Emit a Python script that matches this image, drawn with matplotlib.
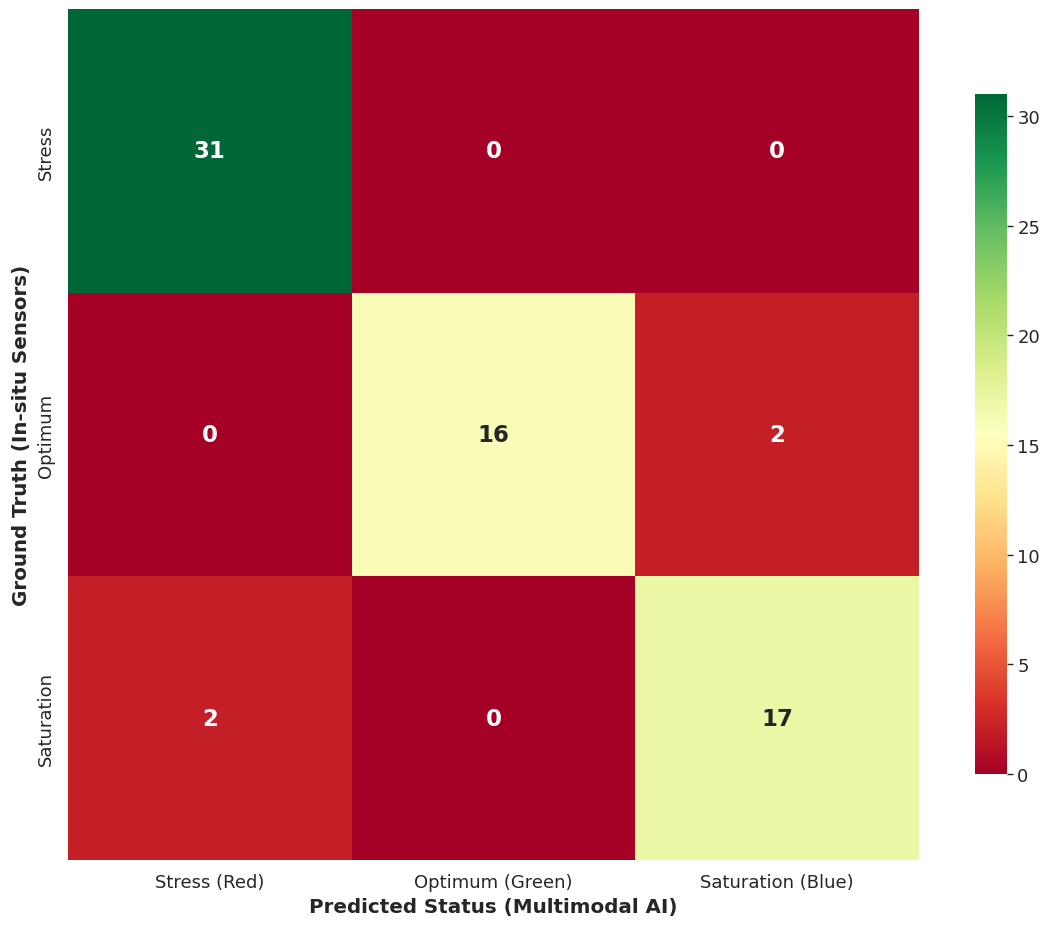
import matplotlib
matplotlib.use("Agg")
import matplotlib.pyplot as plt
import seaborn as sns
import numpy as np

# confusion matrix values
true_labels = ["Stress", "Optimum", "Saturation"]
pred_labels = ["Stress (Red)", "Optimum (Green)", "Saturation (Blue)"]
counts = [
    [31, 0, 0],
    [0, 16, 2],
    [2, 0, 17],
]

sns.set_theme(style="white")

fig = plt.figure(figsize=(10.55, 9.29), dpi=100)
ax = fig.add_axes([0.0645, 0.0732, 0.8066, 0.916])
cax = fig.add_axes([0.924, 0.1658, 0.0303, 0.732])

sns.heatmap(np.array(counts), annot=True, fmt="d", cmap="RdYlGn",
            xticklabels=pred_labels, yticklabels=true_labels,
            annot_kws={"size": 16.5, "weight": "bold"},
            ax=ax, cbar_ax=cax)

ax.set_xlabel("Predicted Status (Multimodal AI)", fontsize=14.3, fontweight="bold")
ax.set_ylabel("Ground Truth (In-situ Sensors)", fontsize=14.3, fontweight="bold")
ax.tick_params(axis="both", labelsize=13)
cax.tick_params(labelsize=13, length=4, width=1, left=False, right=True)

fig.savefig("out.png", dpi=100)
